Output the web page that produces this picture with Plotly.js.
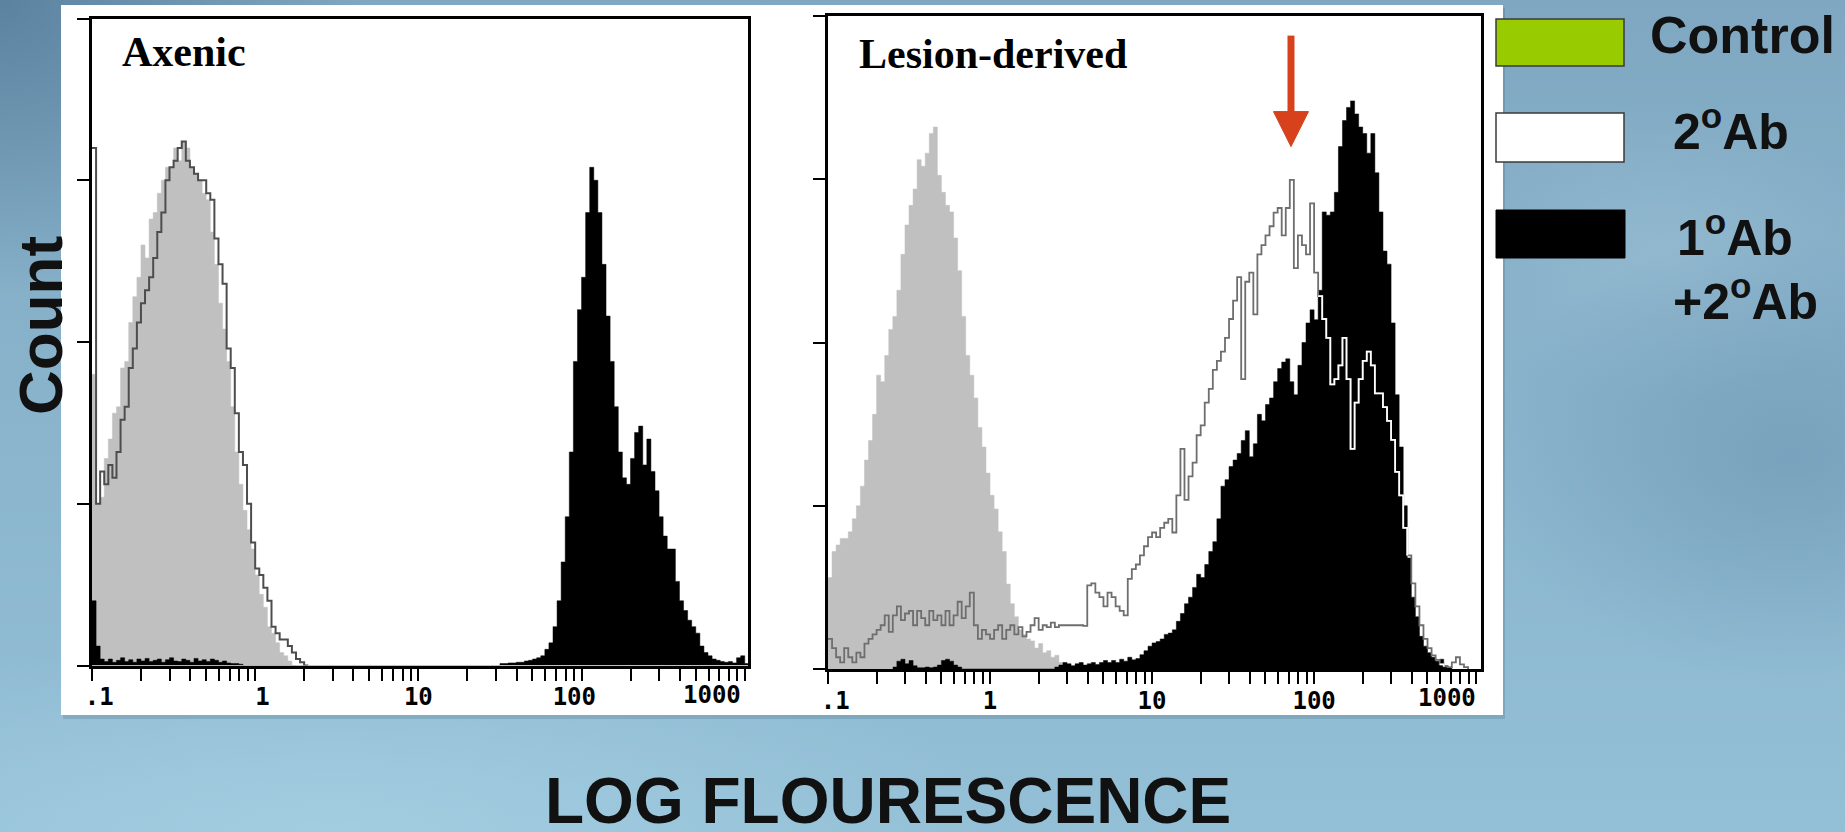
<!DOCTYPE html>
<html>
<head>
<meta charset="utf-8">
<script src="https://cdn.plot.ly/plotly-3.0.1.min.js"></script>
<style>
  html, body { margin: 0; padding: 0; }
  #wrap {
    width: 1845px; height: 832px; overflow: hidden;
    background:
      radial-gradient(ellipse 520px 420px at 0% 0%, rgba(80,118,148,0.75), rgba(80,118,148,0) 70%),
      radial-gradient(ellipse 900px 260px at 18% 100%, rgba(170,212,230,0.65), rgba(170,212,230,0) 75%),
      radial-gradient(ellipse 420px 300px at 97% 55%, rgba(105,145,175,0.55), rgba(105,145,175,0) 75%),
      radial-gradient(ellipse 300px 200px at 90% 30%, rgba(160,195,215,0.45), rgba(160,195,215,0) 75%),
      linear-gradient(180deg, #7fa7c1 0%, #88b3cb 45%, #94c0d7 100%);
  }
  #chart { width: 1845px; height: 832px; }
</style>
</head>
<body>
<div id="wrap"><div id="chart"></div></div>
<script>
// ---------------- DATA (counts per channel, 40 channels per decade, channel 0 = 0.1) ----------------
const channelsPerDecade = 40;
const logMin = -1;

const tickDecades = [0.1, 1, 10, 100, 1000];
const tickLabels = ['.1', '1', '10', '100', '1000'];
const minorMultipliers = [2, 3, 4, 5, 6, 7, 8, 9];

// Axenic panel
const axenicControlStart = 0;
const axenicControl = [45, 25, 26, 32, 35, 39, 40, 46, 47, 53, 57, 60, 65, 63, 69, 70, 73, 75, 77, 77,
  80, 78, 81, 80, 77, 76, 75, 73, 72, 67, 62, 56, 52, 47, 40, 33, 28, 24, 21, 18,
  14, 11, 9, 6, 5, 3.5, 2, 1.5, 0.7, 0];

const axenicSecondaryStart = 0;
const axenicSecondary = [80, 25, 30, 28, 31, 29, 33, 38, 40, 46, 49, 53, 56, 58, 60, 63, 67, 70, 75, 77,
  78, 80, 81, 78, 77, 76, 75, 75, 73, 72, 66, 62, 59, 49, 46, 39, 33, 31, 25, 19,
  15, 14, 12, 10, 6, 5, 4, 4, 3, 2, 1, 0.5, 0];

const axenicPrimaryLowStart = 0;
const axenicPrimaryLow = [10, 3, 1, 0.6, 1, 0.5, 0.8, 1.2, 0.6, 0.9, 0.5, 1, 0.7, 1.1, 0.6, 0.8, 1, 0.5, 0.9, 1.2,
  0.7, 0.6, 1, 0.8, 0.5, 1.1, 0.7, 0.9, 0.6, 1, 0.8, 0.5, 0.7, 0.4, 0.3, 0.3, 0.2];
const axenicPrimaryHighStart = 100;
const axenicPrimaryHigh = [0.3, 0.3, 0.4, 0.4, 0.5, 0.5, 0.7, 0.8, 1, 1.2, 1.5, 2.5, 3.5, 6, 10, 16, 23, 33, 47, 55,
  60, 70, 77, 75, 70, 62, 54, 47, 40, 33, 29, 28, 32, 36, 37, 31, 35, 30, 27, 23,
  20, 18, 18, 13, 10, 8.5, 7, 6, 5, 3, 2, 1.5, 1, 0.8, 0.6, 0.5, 0.6, 0.4, 1.2, 1.5, 0.3];

// Lesion-derived panel
const lesionControlStart = 0;
const lesionControl = [14, 18, 19, 20, 20, 21, 23, 25, 28, 32, 35, 39, 45, 44, 48, 52, 54, 58, 63.5, 68,
  71, 73.5, 78, 77, 79, 82, 83, 75.6, 73, 71, 70, 66, 61, 54, 48, 45, 41.5, 37, 34, 30,
  26.6, 24.5, 21, 18, 13, 10, 8, 6, 5.3, 4.6, 4.3, 3.2, 3.9, 2.5, 2.8, 1.8, 2.1, 1, 0.7, 0.3];

const lesionSecondaryStart = 0;
const lesionSecondary = [4.6, 3.2, 1.8, 1, 3.2, 1.8, 1, 2.5, 1.8, 3.9,
  4.6, 5.3, 6, 6.7, 8.2, 5.7, 8.2, 9.6, 7.5, 8.5,
  8.9, 6.7, 8.9, 7.8, 6.7, 8.9, 7.5, 8.2, 6.7, 8.9,
  6.7, 8.2, 10.3, 7.8, 9.6, 11.7, 6.7, 4.6, 6, 5.3,
  4.6, 6, 6.7, 4.6, 6, 6.7, 5.3, 6.4, 5, 5.7,
  6.7, 7.8, 6, 6.7, 6.4, 7.1, 6.4, 6.7, 6.7, 6.7,
  6.7, 6.7, 6.7, 6.6, 12.8, 13.1, 11.7, 11, 9.6, 11.7,
  11, 9.6, 8.9, 8.2, 13.8, 15.3, 16, 17.4, 18.8, 20.2,
  20.9, 20.2, 21.6, 22.4, 23, 20.9, 26.6, 33.7, 25.9, 29.5,
  31.6, 35.8, 37.3, 40.8, 42.9, 45.8, 47.2, 48.6, 50.7, 53.6,
  56.4, 60, 44.4, 59.3, 60.7, 54.3, 63.5, 64.9, 66.4, 67.8,
  69.9, 70.6, 66.4, 70.6, 74.9, 61.4, 66.4, 64.9, 63.5, 71.3,
  60.7, 57.1, 53.6, 50.7, 43.6, 44.4, 46.5, 50.7, 44.4, 33.7,
  40.8, 44.4, 47.2, 48.6, 46.5, 42.2, 42.2, 40.1, 38, 35.1,
  30.2, 26.6, 21.6, 17.4, 13.1, 9.6, 6.7, 4.6, 3.2, 2.1,
  1.4, 0.7, 0.4, 0.3, 1, 1.8, 0.7, 0.3];

const lesionPrimaryLowStart = 16;
const lesionPrimaryLow = [0.3, 1.2, 1.5, 0.8, 1.3, 0.5, 0.2, 0.2, 0.3, 0.2, 0.3, 0.6, 1.3, 1.5, 1.2, 0.6, 0.3];
const lesionPrimaryHighStart = 56;
const lesionPrimaryHigh = [0.3, 0.6, 1, 0.8, 0.5, 0.8, 1, 0.6, 0.8, 1,
  0.7, 1, 1.3, 1, 1.3, 1, 1.5, 1.2, 1.8, 1.4,
  1.6, 2.2, 2.8, 3.5, 4, 4.2, 4.6, 5.3, 5.5, 6,
  7.3, 8.5, 10, 11, 12.5, 14.5, 14, 16, 18, 19.5,
  23, 28, 29, 31, 32, 33, 35, 36.5, 32.5, 34.5,
  39, 38, 40.5, 41.5, 44, 46, 47, 47.5, 44, 42,
  46.5, 50, 53, 55, 53.5, 58, 70, 69.5, 70, 73,
  80, 84, 86, 87, 85, 83, 82, 79, 82, 76,
  70, 64, 62, 53, 42, 34, 25, 17, 11, 8,
  5, 3.5, 2.5, 1.8, 1.2, 1.5, 0.5, 0.2];

const arrowTargetValue = 72;   // fluorescence the red arrow points at
const arrowTargetCount = 80;

// ---------------- helpers ----------------
const W = 1845, H = 832;
const px = v => v / W;
const py = v => 1 - v / H;
const chanX = c => Math.pow(10, logMin + c / channelsPerDecade);

function steps(segments) {
  const x = [], y = [];
  segments.forEach(s => {
    s.counts.forEach((v, i) => { x.push(chanX(s.start + i)); y.push(v); });
    x.push(chanX(s.start + s.counts.length)); y.push(0);
  });
  return {x, y};
}
function channelMap(segments) {
  const m = {};
  segments.forEach(s => s.counts.forEach((v, i) => { m[s.start + i] = v; }));
  return m;
}

const minorVals = [];
tickDecades.slice(0, -1).forEach(d => minorMultipliers.forEach(k => minorVals.push(k * d)));
const lastDecade = tickDecades[tickDecades.length - 1];
const lastLabel = tickLabels[tickLabels.length - 1];

// label nudges in monospace half-character steps: +n = leading no-break spaces, -n = trailing
const NB = '\u00a0';
function labelsWithPad(pads) {
  return tickLabels.slice(0, -1).map((t, i) => {
    const p = pads[i];
    return (p > 0 ? NB.repeat(p) : '') + '<b>' + t + '</b>' + (p < 0 ? NB.repeat(-p) : '');
  });
}

// ---------------- traces ----------------
const GRAY = '#c0c0c0';
function fillTrace(seg, color, xa, ya) {
  const s = steps(seg);
  return {x: s.x, y: s.y, xaxis: xa, yaxis: ya, type: 'scatter', mode: 'lines',
    line: {shape: 'hv', width: 0.5, color: color}, fill: 'tozeroy', fillcolor: color,
    hoverinfo: 'skip', showlegend: false};
}
function lineTrace(seg, color, width, xa, ya) {
  const s = steps(seg);
  return {x: s.x, y: s.y, xaxis: xa, yaxis: ya, type: 'scatter', mode: 'lines',
    line: {shape: 'hv', width: width, color: color}, hoverinfo: 'skip', showlegend: false};
}

const traces = [];
// Axenic
traces.push(fillTrace([{start: axenicControlStart, counts: axenicControl}], GRAY, 'x', 'y'));
traces.push(fillTrace([{start: axenicPrimaryLowStart, counts: axenicPrimaryLow},
                       {start: axenicPrimaryHighStart, counts: axenicPrimaryHigh}], '#000000', 'x', 'y'));
traces.push(lineTrace([{start: axenicSecondaryStart, counts: axenicSecondary}], '#4d4d4d', 2, 'x', 'y'));

// Lesion-derived
const lesPrimSeg = [{start: lesionPrimaryLowStart, counts: lesionPrimaryLow},
                    {start: lesionPrimaryHighStart, counts: lesionPrimaryHigh}];
traces.push(fillTrace([{start: lesionControlStart, counts: lesionControl}], GRAY, 'x2', 'y2'));
traces.push(fillTrace(lesPrimSeg, '#000000', 'x2', 'y2'));
traces.push(lineTrace([{start: lesionSecondaryStart, counts: lesionSecondary}], '#6e6e6e', 1.8, 'x2', 'y2'));
// part of the 2°Ab outline that lies inside the black histogram shows white
(function () {
  const prim = channelMap(lesPrimSeg);
  const x = [], y = [];
  let prevInside = false;
  lesionSecondary.forEach((v, i) => {
    const c = lesionSecondaryStart + i;
    const inside = (prim[c] || 0) > v + 0.5;
    x.push(chanX(c));
    y.push(inside || prevInside ? v : null);
    prevInside = inside;
  });
  traces.push({x, y, xaxis: 'x2', yaxis: 'y2', type: 'scatter', mode: 'lines',
    line: {shape: 'hv', width: 1.8, color: '#ffffff'}, connectgaps: false,
    hoverinfo: 'skip', showlegend: false});
})();

// ---------------- layout ----------------
const tickFont = {family: 'DejaVu Sans Mono, monospace', size: 24, color: '#000'};
function xAxis(domain, range, pads, anchor) {
  return {type: 'log', domain: domain, range: range, anchor: anchor, tickmode: 'array',
    tickvals: tickDecades.slice(0, -1), ticktext: labelsWithPad(pads), ticklabelstandoff: -4,
    ticks: 'outside', ticklen: 12, tickwidth: 2, tickcolor: '#000', tickfont: tickFont,
    minor: {tickmode: 'array', tickvals: minorVals.concat([lastDecade]), ticks: 'outside', ticklen: 12,
      tickwidth: 2, tickcolor: '#000', showgrid: false},
    showline: true, linecolor: '#000', linewidth: 3, mirror: true, showgrid: false, zeroline: false,
    fixedrange: true};
}
function yAxis(domain, anchor) {
  return {domain: domain, range: [0, 100], anchor: anchor, tickmode: 'array', tickvals: [0, 25, 50, 75, 100],
    showticklabels: false, ticks: 'outside', ticklen: 12, tickwidth: 2, tickcolor: '#000',
    showline: true, linecolor: '#000', linewidth: 3, mirror: true, showgrid: false, zeroline: false,
    fixedrange: true};
}
// the last decade label sits inside the frame, left of its tick, as in the original
function lastLabelNote(xref, yPix, shift) {
  return {text: '<b>' + lastLabel + '</b>', xref: xref, yref: 'paper', x: Math.log10(lastDecade), y: py(yPix),
    xanchor: 'center', yanchor: 'middle', xshift: shift, showarrow: false, font: tickFont};
}

const sans = 'Liberation Sans, Arial, sans-serif';
const serif = 'Liberation Serif, Times New Roman, serif';
const ARROW = '#d7411c';

const layout = {
  width: W, height: H,
  margin: {l: 0, r: 0, t: 0, b: 0, pad: 0},
  paper_bgcolor: 'rgba(0,0,0,0)',
  plot_bgcolor: '#ffffff',
  showlegend: false,
  xaxis: xAxis([px(92), px(748)], [-1, 3.02], [1, 1, 0, -1], 'y'),
  yaxis: yAxis([py(665.5), py(18.5)], 'x'),
  xaxis2: xAxis([px(828), px(1481)], [-1, 3.03], [1, 0, 0, 0], 'y2'),
  yaxis2: yAxis([py(669), py(16)], 'x2'),
  shapes: [
    {type: 'rect', xref: 'paper', yref: 'paper', x0: px(63), x1: px(1505), y0: py(719), y1: py(8),
      fillcolor: 'rgba(40,70,90,0.18)', line: {width: 0}, layer: 'below'},
    {type: 'rect', xref: 'paper', yref: 'paper', x0: px(61), x1: px(1503), y0: py(715), y1: py(5),
      fillcolor: '#ffffff', line: {width: 0}, layer: 'below'},
    // legend swatches
    {type: 'rect', xref: 'paper', yref: 'paper', x0: px(1496), x1: px(1624), y0: py(66), y1: py(19),
      fillcolor: '#99cc00', line: {color: '#3a3a3a', width: 1.5}},
    {type: 'rect', xref: 'paper', yref: 'paper', x0: px(1496), x1: px(1624), y0: py(162), y1: py(113),
      fillcolor: '#ffffff', line: {color: '#3a3a3a', width: 1.5}},
    {type: 'rect', xref: 'paper', yref: 'paper', x0: px(1496), x1: px(1625), y0: py(258), y1: py(210),
      fillcolor: '#000000', line: {color: '#000000', width: 1}},
    // red arrow (shaft + head), anchored at the 2°Ab peak, sized in pixels
    {type: 'line', xref: 'x2', yref: 'y2', xsizemode: 'pixel', ysizemode: 'pixel',
      xanchor: arrowTargetValue, yanchor: arrowTargetCount, x0: 0, x1: 0, y0: 30, y1: 111,
      line: {color: ARROW, width: 7}},
    {type: 'path', xref: 'x2', yref: 'y2', xsizemode: 'pixel', ysizemode: 'pixel',
      xanchor: arrowTargetValue, yanchor: arrowTargetCount,
      path: 'M -17.5 35 L 17.5 35 L 0 0 Z', fillcolor: ARROW, line: {color: ARROW, width: 1}}
  ],
  annotations: [
    lastLabelNote('x', 695, -33),
    lastLabelNote('x2', 698, -29),
    {text: 'Axenic', xref: 'paper', yref: 'paper', x: px(120), y: py(52), xanchor: 'left', yanchor: 'middle',
      showarrow: false, font: {family: serif, size: 42, color: '#000', weight: 'bold'}},
    {text: 'Lesion-derived', xref: 'paper', yref: 'paper', x: px(857), y: py(54), xanchor: 'left', yanchor: 'middle',
      showarrow: false, font: {family: serif, size: 42, color: '#000', weight: 'bold'}},
    {text: 'Count', xref: 'paper', yref: 'paper', x: px(40), y: py(326), textangle: -90,
      xanchor: 'center', yanchor: 'middle', showarrow: false,
      font: {family: sans, size: 62, color: '#111', weight: 'bold'}},
    {text: 'LOG FLOURESCENCE', xref: 'paper', yref: 'paper', x: px(888), y: py(801),
      xanchor: 'center', yanchor: 'middle', showarrow: false,
      font: {family: sans, size: 64, color: '#111', weight: 'bold'}},
    {text: 'Control', xref: 'paper', yref: 'paper', x: px(1648), y: py(35), xanchor: 'left', yanchor: 'middle',
      showarrow: false, font: {family: sans, size: 52, color: '#111', weight: 'bold'}},
    {text: '2<sup>o</sup>Ab', xref: 'paper', yref: 'paper', x: px(1671), y: py(128), xanchor: 'left', yanchor: 'middle',
      showarrow: false, font: {family: sans, size: 50, color: '#111', weight: 'bold'}},
    {text: '1<sup>o</sup>Ab', xref: 'paper', yref: 'paper', x: px(1675), y: py(234), xanchor: 'left', yanchor: 'middle',
      showarrow: false, font: {family: sans, size: 50, color: '#111', weight: 'bold'}},
    {text: '+2<sup>o</sup>Ab', xref: 'paper', yref: 'paper', x: px(1671), y: py(298), xanchor: 'left', yanchor: 'middle',
      showarrow: false, font: {family: sans, size: 50, color: '#111', weight: 'bold'}}
  ]
};

Plotly.newPlot('chart', traces, layout, {displayModeBar: false, staticPlot: true});
</script>
</body>
</html>
